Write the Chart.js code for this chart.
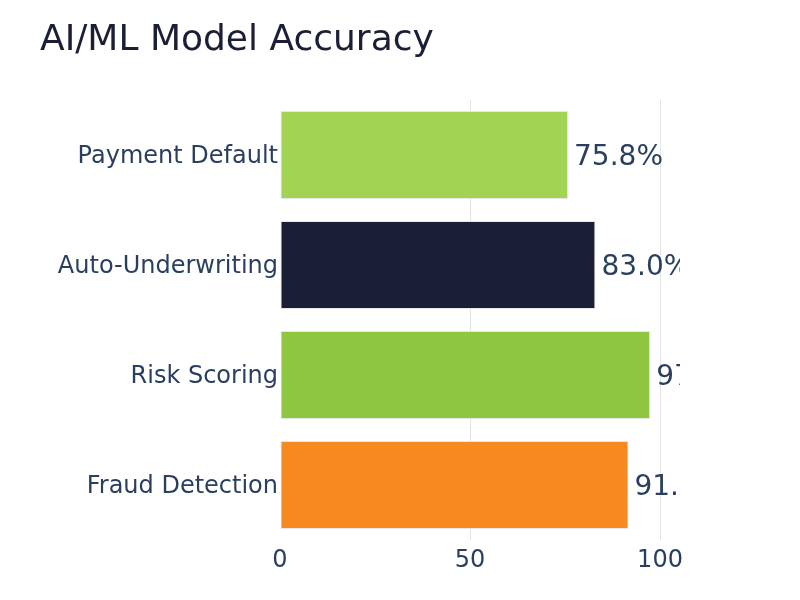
<!DOCTYPE html>
<html lang="en">
<head>
    <meta charset="UTF-8">
    <title>AI/ML Model Accuracy</title>
    <script src="https://cdn.jsdelivr.net/npm/chart.js"></script>
    <style>
        html, body { margin: 0; padding: 0; background: #fff; }
        #wrap { width: 800px; height: 600px; }
    </style>
</head>
<body>
    <div id="wrap"><canvas id="accuracyChart"></canvas></div>

    <script>
        // Chart data
        const models = ['Payment Default', 'Auto-Underwriting', 'Risk Scoring', 'Fraud Detection'];
        const accuracy = [75.8, 83.0, 97.4, 91.7];
        const barColors = ['#a2d353', '#1b1f36', '#8dc63f', '#f78920'];
        const xTicks = [0, 50, 100];

        const FONT = '"DejaVu Sans", sans-serif';
        const TEXT = '#2a3f5f';

        // Title drawn at the top left
        const titlePlugin = {
            id: 'titleText',
            afterDraw(chart) {
                const c = chart.ctx;
                c.save();
                c.font = '36px ' + FONT;
                c.fillStyle = '#1b1f36';
                c.textBaseline = 'middle';
                c.textAlign = 'left';
                c.fillText('AI/ML Model Accuracy', 40, 41);
                c.restore();
            }
        };

        // Value labels outside the bars, clipped to the plot area
        const valueLabels = {
            id: 'valueLabels',
            afterDatasetsDraw(chart) {
                const c = chart.ctx;
                const area = chart.chartArea;
                const meta = chart.getDatasetMeta(0);
                c.save();
                c.beginPath();
                c.rect(area.left, area.top, area.right - area.left, area.bottom - area.top);
                c.clip();
                c.font = '28px ' + FONT;
                c.fillStyle = TEXT;
                c.textBaseline = 'middle';
                c.textAlign = 'left';
                meta.data.forEach((bar, i) => {
                    c.fillText(accuracy[i].toFixed(1) + '%', bar.x + 6, bar.y + 3);
                });
                c.restore();
            }
        };

        const ctx = document.getElementById('accuracyChart').getContext('2d');
        const accuracyChart = new Chart(ctx, {
            type: 'bar',
            data: {
                labels: models,
                datasets: [{
                    data: accuracy,
                    backgroundColor: barColors,
                    borderColor: '#e6e6e6',
                    borderWidth: 1,
                    borderSkipped: false,
                    categoryPercentage: 1,
                    barPercentage: 0.8
                }]
            },
            options: {
                indexAxis: 'y',
                responsive: true,
                maintainAspectRatio: false,
                animation: false,
                layout: { padding: { top: 100, left: 40, right: 120, bottom: 0 } },
                plugins: {
                    legend: { display: false },
                    tooltip: { enabled: false }
                },
                scales: {
                    x: {
                        min: 0,
                        max: 105.26,
                        afterBuildTicks(scale) {
                            scale.ticks = xTicks.map(v => ({ value: v }));
                        },
                        afterFit(scale) { scale.height = 60; },
                        grid: {
                            // no line at zero, light lines elsewhere
                            color: (c) => (c.tick && c.tick.value === 0 ? 'rgba(0,0,0,0)' : '#e3e3e3'),
                            lineWidth: 1,
                            drawTicks: false
                        },
                        border: { display: false },
                        ticks: {
                            color: TEXT,
                            font: { family: FONT, size: 24 },
                            padding: 6,
                            maxRotation: 0
                        }
                    },
                    y: {
                        afterFit(scale) { scale.width = 240; },
                        grid: { display: false, drawTicks: false },
                        border: { display: false },
                        ticks: {
                            color: TEXT,
                            font: { family: FONT, size: 24 },
                            padding: 2,
                            labelOffset: 2
                        }
                    }
                }
            },
            plugins: [titlePlugin, valueLabels]
        });
    </script>
</body>
</html>
